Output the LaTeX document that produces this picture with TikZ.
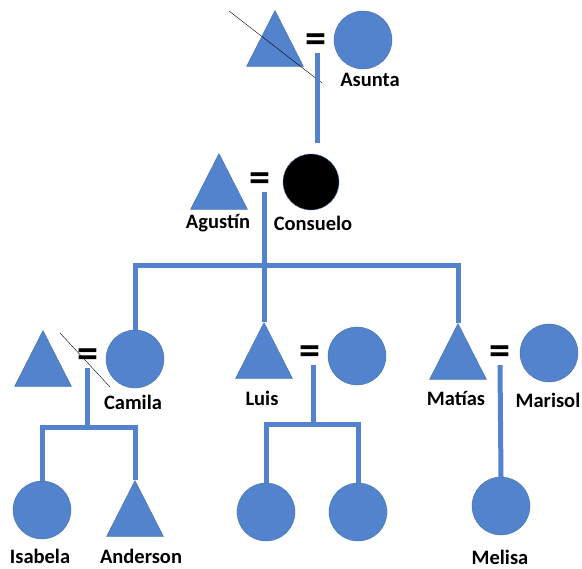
\documentclass[tikz,border=0pt]{standalone}
\usepackage{fontspec}
\setmainfont{Carlito}
\usepackage{tikz}
\usetikzlibrary{shapes.geometric}
\definecolor{kinblue}{RGB}{84,131,206}
\definecolor{kinedge}{RGB}{66,112,170}

\begin{document}
\begin{tikzpicture}[x=1pt, y=-1pt,
  every node/.style={font=\bfseries\fontsize{20.5}{24}\selectfont},
  male/.style={isosceles triangle, isosceles triangle stretches, shape border rotate=90,
    minimum width=57pt, minimum height=56pt, inner sep=0pt, fill=kinblue, draw=kinedge, thin, anchor=apex},
  female/.style={circle, minimum size=58pt, inner sep=0pt, fill=kinblue, draw=kinedge, thin},
  dead/.style={circle, minimum size=56pt, inner sep=0pt, fill=black, draw=kinedge, thin},
  wed/.style={font=\bfseries\fontsize{42}{42}\selectfont, inner sep=0pt, minimum height=20pt},
  kin/.style={draw=kinblue, line width=5pt},
  gone/.style={black, thin}]
  \useasboundingbox (0,0) rectangle (582,569);
  % first generation
  \node[male]   (abuelo) at (275,10)  {};
  \node[wed]    (eq0)    at (316,43)  {=};
  \node[female] (asunta) at (363,40)  {};
  \node (asuntaname)     at (370,80)  {Asunta};
  \coordinate (x0a) at (229,11);  \coordinate (x0b) at (322,83);
  \coordinate (d0)  at (317,143);
  % second generation
  \node[male]   (agustin)  at (219,153) {};
  \node[wed]    (eq1)      at (260,182) {=};
  \node[dead]   (consuelo) at (311,182) {};
  \node (agustinname)      at (218,223) {Agustín};
  \node (consueloname)     at (313,223) {Consuelo};
  \coordinate (sib) at (264,266);
  % third generation
  \node[male]   (tio)     at (43,330)  {};
  \node[wed]    (eq2)     at (88,358)  {=};
  \node[female] (camila)  at (135,359) {};
  \node (camilaname)      at (133,402) {Camila};
  \coordinate (x2a) at (60,333);  \coordinate (x2b) at (110,387);
  \coordinate (k2)  at (87,428);
  \node[male]   (luis)    at (264,322) {};
  \node[wed]    (eq3)     at (310,355) {=};
  \node[female] (luiswife) at (357,356) {};
  \node (luisname)        at (262,398) {Luis};
  \coordinate (k3)  at (313,425);
  \node[male]   (matias)  at (458,323) {};
  \node[wed]    (eq4)     at (500,355) {=};
  \node[female] (marisol) at (549,353) {};
  \node (matiasname)      at (456,398) {Matías};
  \node (marisolname)     at (548,400) {Marisol};
  % fourth generation
  \node[female] (isabela)  at (42,510)  {};
  \node[male]   (anderson) at (135,480) {};
  \node (isabelaname)      at (40,556)  {Isabela};
  \node (andersonname)     at (141,556) {Anderson};
  \node[female] (luiskid1) at (266,512) {};
  \node[female] (luiskid2) at (358,512) {};
  \node[female] (melisa)   at (501,506) {};
  \node (melisaname)       at (500,557) {Melisa};
  % lines
  \draw[gone] (x0a) -- (x0b);
  \draw[gone] (x2a) -- (x2b);
  \draw[kin] (eq0.south -| d0) -- (d0);
  \draw[kin] (eq1.south -| sib) -- (sib);
  \draw[kin] (camila.north) |- (sib) -| (matias.apex);
  \draw[kin] (sib) -- (luis.apex);
  \draw[kin] (eq2.south -| k2) -- (k2);
  \draw[kin] (isabela.north) |- (k2) -| (anderson.apex);
  \draw[kin] (eq3.south -| k3) -- (k3);
  \draw[kin] (luiskid1.north) |- (k3) -| (luiskid2.north);
  \draw[kin] (eq4.south) -- (melisa.north);
\end{tikzpicture}
\end{document}
